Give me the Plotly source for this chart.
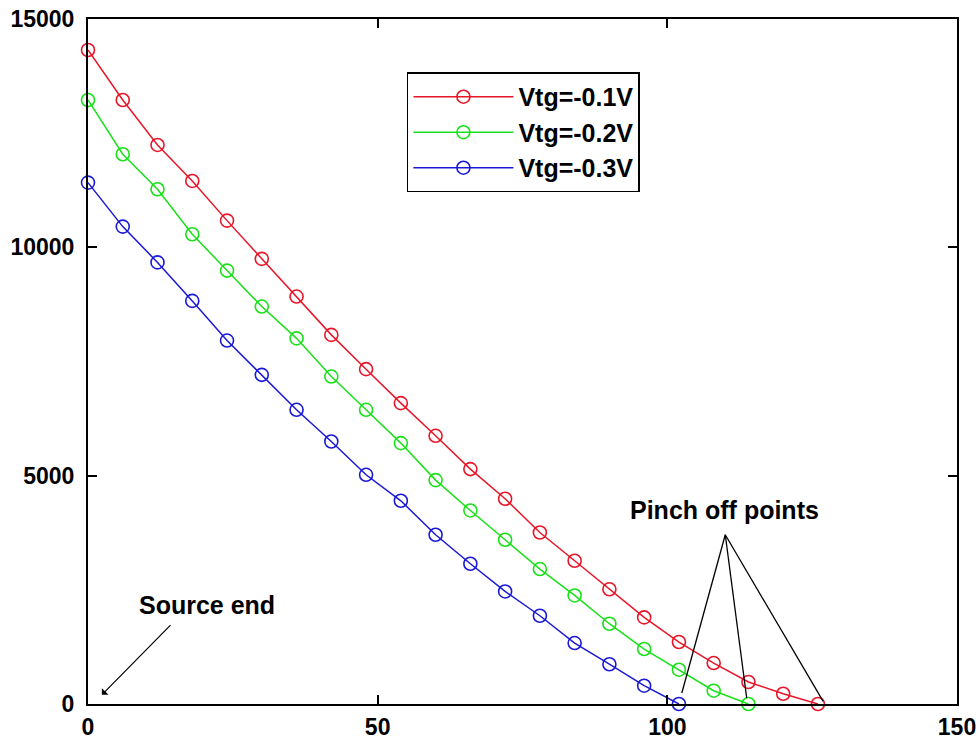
import plotly.graph_objects as go

# ---- data ----
x_red = [0, 6, 12, 18, 24, 30, 36, 42, 48, 54, 60, 66, 72, 78, 84, 90, 96, 102, 108, 114, 120, 126]
y_red = [14321, 13227, 12242, 11454, 10585, 9747, 8922, 8083, 7332, 6588, 5873, 5144,
         4494, 3756, 3137, 2513, 1896, 1357, 897, 482, 225, 0]

x_green = [0, 6, 12, 18, 24, 30, 36, 42, 48, 54, 60, 66, 72, 78, 84, 90, 96, 102, 108, 114]
y_green = [13227, 12038, 11272, 10287, 9491, 8703, 8007, 7170, 6442, 5713, 4903, 4238,
           3596, 2955, 2377, 1758, 1204, 751, 291, 0]

x_blue = [0, 6, 12, 18, 24, 30, 36, 42, 48, 54, 60, 66, 72, 78, 84, 90, 96, 102]
y_blue = [11417, 10454, 9670, 8827, 7959, 7208, 6442, 5748, 5019, 4450, 3706, 3071,
          2465, 1933, 1335, 871, 401, 0]

series_names = ["Vtg=-0.1V", "Vtg=-0.2V", "Vtg=-0.3V"]
series_colors = ["rgb(232,22,40)", "rgb(25,225,25)", "rgb(25,25,215)"]

x_ticks = [0, 50, 100, 150]
x_ticktext = ["0", "50", "100", "150"]
y_ticks = [0, 5000, 10000, 15000]
y_ticktext = ["0", "5000", "10000", "15000"]

# annotation geometry (data coordinates)
source_arrow_tip = (2.4, 200)
source_arrow_tail = (14.5, 1760)
source_label_pos = (20.5, 2160)
pinch_apex = (110.0, 3706)
pinch_targets = [(102.5, 241), (113.7, 131), (126.9, 57)]
pinch_label_pos = (109.9, 4240)

FONT = "Liberation Sans, Arial, sans-serif"

fig = go.Figure()
for xs, ys, name, col in zip([x_red, x_green, x_blue], [y_red, y_green, y_blue],
                             series_names, series_colors):
    fig.add_trace(go.Scatter(
        x=xs, y=ys, name=name, mode="lines+markers",
        line=dict(color=col, width=1.5),
        marker=dict(symbol="circle-open", size=13, color=col, line=dict(width=1.6)),
        cliponaxis=False,
    ))

shapes = []
for tx, ty in pinch_targets:
    shapes.append(dict(type="line", xref="x", yref="y", x0=pinch_apex[0], y0=pinch_apex[1],
                       x1=tx, y1=ty, line=dict(color="black", width=1.3)))

annotations = [
    dict(x=source_arrow_tip[0], y=source_arrow_tip[1], ax=source_arrow_tail[0], ay=source_arrow_tail[1],
         axref="x", ayref="y", xref="x", yref="y", text="", showarrow=True,
         arrowhead=1, arrowsize=1.3, arrowwidth=1.2, arrowcolor="black"),
    dict(x=source_label_pos[0], y=source_label_pos[1], xref="x", yref="y", text="Source end",
         showarrow=False, font=dict(family=FONT, size=25, color="black", weight="bold")),
    dict(x=pinch_label_pos[0], y=pinch_label_pos[1], xref="x", yref="y", text="Pinch off points",
         showarrow=False, font=dict(family=FONT, size=25, color="black", weight="bold")),
]

axis_common = dict(
    showline=True, linecolor="black", linewidth=2, mirror="ticks",
    ticks="inside", ticklen=9, tickwidth=1.5, tickcolor="black",
    showgrid=False, zeroline=False, automargin=False,
    tickfont=dict(family=FONT, size=23, color="black", weight="bold"),
)

fig.update_layout(
    width=979, height=740,
    margin=dict(l=88, r=22, t=19, b=36),
    paper_bgcolor="white", plot_bgcolor="white",
    xaxis=dict(range=[0, 150], tickvals=x_ticks, ticktext=x_ticktext, ticklabelstandoff=1, **axis_common),
    yaxis=dict(range=[0, 15000], tickvals=y_ticks, ticktext=y_ticktext, ticklabelstandoff=7, **axis_common),
    showlegend=True,
    legend=dict(x=0.367, y=0.922, xanchor="left", yanchor="top",
                bgcolor="white", bordercolor="black", borderwidth=1.5,
                font=dict(family=FONT, size=25, color="black", weight="bold"),
                itemwidth=100, entrywidth=258, tracegroupgap=0),
    shapes=shapes,
    annotations=annotations,
)

fig.write_html("out.html")
